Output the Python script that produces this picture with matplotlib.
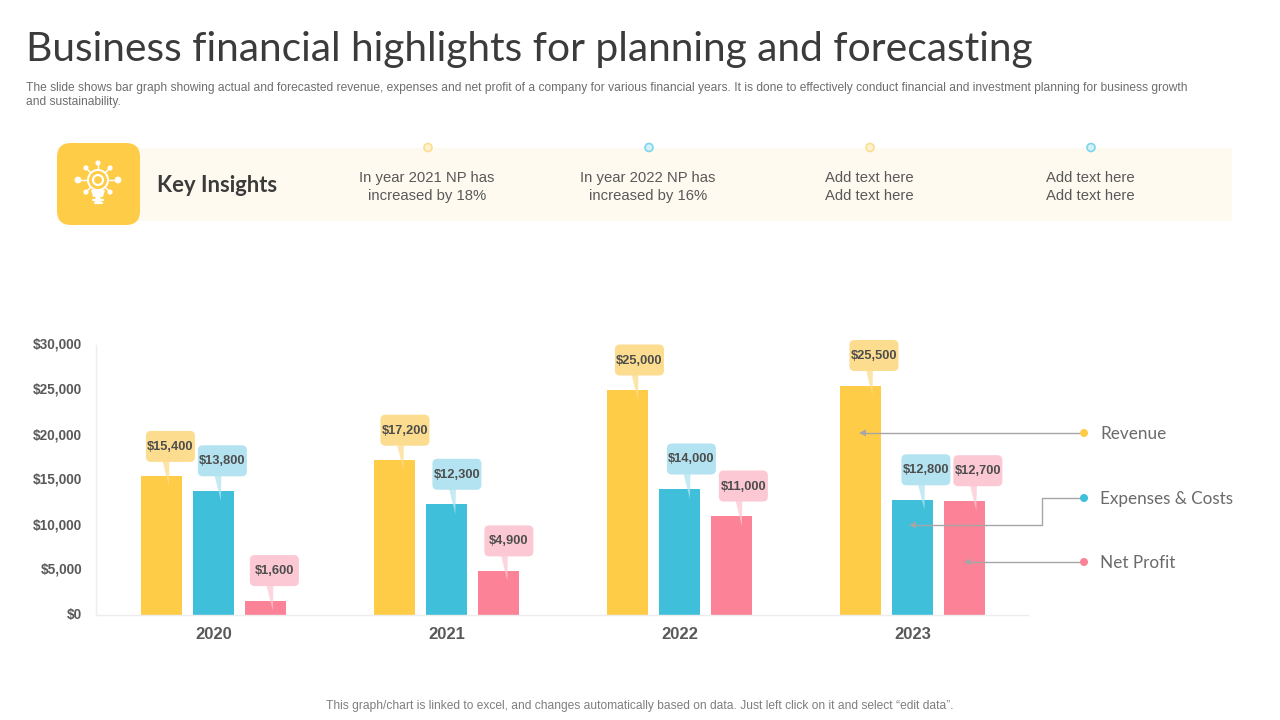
import matplotlib
matplotlib.use("Agg")
import numpy as np
import matplotlib.pyplot as plt
from matplotlib.patches import FancyBboxPatch, Rectangle, Circle, Polygon
from matplotlib.transforms import ScaledTranslation

YEARS    = ["2020", "2021", "2022", "2023"]
REVENUE  = [15400, 17200, 25000, 25500]
EXPENSES = [13800, 12300, 14000, 12800]
PROFIT   = [1600, 4900, 11000, 12700]
YTICKS   = [0, 5000, 10000, 15000, 20000, 25000, 30000]
SERIES_NAMES = ["Revenue", "Expenses & Costs", "Net Profit"]
INSIGHTS = ["In year 2021 NP has\nincreased by 18%", "In year 2022 NP has\nincreased by 16%",
            "Add text here\nAdd text here", "Add text here\nAdd text here"]

YELLOW = "#FFCC47"
BLUE   = "#40BFDB"
PINK   = "#FC8297"
COLORS = [YELLOW, BLUE, PINK]
LIGHT  = ["#FCDD8F", "#B3E3F0", "#FBC8D4"]
GREY   = "#595959"
ARROW  = "#A6A6A6"
HEAD_FONT = "Lato"
ARIAL  = "Liberation Sans"

fig = plt.figure(figsize = (12.8, 7.2), dpi = 100)

# overlay in image pixels, y going down
bg = fig.add_axes([0, 0, 1, 1], zorder = 0)
bg.set_xlim(0, 1280)
bg.set_ylim(720, 0)
bg.axis("off")

ax = fig.add_axes([96 / 1280, (720 - 615) / 720, 932 / 1280, 270 / 720], zorder = 1)
ax.patch.set_alpha(0)
top = fig.add_axes([0, 0, 1, 1], zorder = 2)
top.set_xlim(0, 1280)
top.set_ylim(720, 0)
top.axis("off")

# header text
bg.text(26, 49, "Business financial highlights for planning and forecasting",
        fontsize = 29.3, family = HEAD_FONT, color = "#3B3B3B", va = "center", ha = "left")
bg.text(26, 87.5, "The slide shows bar graph showing actual and forecasted revenue, expenses and net profit of a company for various financial years. It is done to effectively conduct financial and investment planning for business growth",
        fontsize = 8.64, family = ARIAL, color = "#6E6E6E", va = "center")
bg.text(26, 101.5, "and sustainability.", fontsize = 8.64, family = ARIAL, color = "#6E6E6E", va = "center")

# key insights band
bg.add_patch(Rectangle((100, 148), 1132, 73, color = "#FEFAEF", lw = 0))
bg.add_patch(FancyBboxPatch((67, 153), 63, 62, boxstyle = "round,pad=10,rounding_size=14",
                            fc = YELLOW, ec = "none"))
bg.text(157, 185, "Key Insights", fontsize = 15.8, family = HEAD_FONT, weight = "bold",
        color = "#3B3B3B", va = "center")

# bulb icon
cx, cy = 98, 180
for a in np.arange(0, 360, 45) :
    if a == 90:
        continue
    r = 20 if a % 90 == 0 else 17
    x = cx + r * np.cos(np.radians(a))
    y = cy - r * np.sin(np.radians(a))
    bg.plot([cx, x], [cy, y], color = "white", lw = 1)
    bg.add_patch(Circle((x, y), 3.4 if a % 90 == 0 else 2.6, color = "white", lw = 0))
bg.add_patch(Circle((cx, cy - 17), 2.6, color = "white", lw = 0))
bg.plot([cx, cx], [cy - 17, cy], color = "white", lw = 1)
bg.add_patch(Circle((cx, cy), 10, fc = YELLOW, ec = "white", lw = 1.4, zorder = 3))
bg.add_patch(Circle((cx, cy), 5, fc = YELLOW, ec = "white", lw = 1.6, zorder = 3))
bg.add_patch(Polygon([(cx - 7, cy + 10), (cx + 7, cy + 10), (cx + 5, cy + 17), (cx - 5, cy + 17)],
                     color = "white", lw = 0, zorder = 3))
for y, w in [(cy + 19.5, 5), (cy + 23, 3.5)]:
    bg.plot([cx - w, cx + w], [y, y], color = "white", lw = 1.6, solid_capstyle = "round")

for i, txt in enumerate(INSIGHTS):
    x = 427 + i * 221
    bg.text(x, 187, txt, fontsize = 10.7, family = ARIAL, color = "#595959",
            ha = "center", va = "center", linespacing = 1.45)
    c = "#FCDD8F" if i % 2 == 0 else "#7FD6EC"
    face = "#FEF3D0" if i % 2 == 0 else "#D5F1F8"
    bg.add_patch(Circle((x + 1, 147.5), 4, fc = face, ec = c, lw = 1.2, zorder = 3))

# bars
xpos = np.arange(len(YEARS))
width = 0.176
gap = 0.223
values = [REVENUE, EXPENSES, PROFIT]
for i, vals in enumerate(values):
    ax.bar(xpos + (i - 1) * gap, vals, width = width, color = COLORS[i], lw = 0, zorder = 2)

ax.set_xlim(-0.506, 3.494)
ax.set_ylim(0, 30000)
ax.set_xticks(xpos)
ax.set_xticklabels(YEARS, fontsize = 12, weight = "bold", family = ARIAL, color = GREY)
ax.set_yticks(YTICKS)
ax.set_yticklabels(["$%s" % format(v, ",") for v in YTICKS], fontsize = 9.8, weight = "bold",
                   family = ARIAL, color = GREY, va = "center_baseline")
ax.tick_params(length = 0)
ax.tick_params(axis = "x", pad = 8.3)
ax.tick_params(axis = "y", pad = 10)
shift = ScaledTranslation(0, 1.5 / 100, fig.dpi_scale_trans)
for lab in ax.get_yticklabels():
    lab.set_transform(lab.get_transform() + shift)
for s in ["top", "right"]:
    ax.spines[s].set_visible(False)
for s in ["left", "bottom"]:
    ax.spines[s].set_color("#EDEDED")
    ax.spines[s].set_linewidth(1)

# value callouts, anchored on the bar tops
def to_pixels(x, y):
    px = ax.transData.transform((x, y))
    return px[0], 720 - px[1]

for i, vals in enumerate(values):
    for j, v in enumerate(vals):
        bx, by = to_pixels(xpos[j] + (i - 1) * gap, v)
        mx = bx + 8.5 + 1.5 * j
        my = by - 30
        top.add_patch(Polygon([(mx - 8, my + 14), (mx - 1, my + 14), (mx - 1.5, my + 40)],
                              color = LIGHT[i], alpha = 0.75, lw = 0, zorder = 3))
        top.add_patch(FancyBboxPatch((mx - 21, my - 12), 42, 24,
                                     boxstyle = "round,pad=3.5,rounding_size=5",
                                     fc = LIGHT[i], ec = "none", zorder = 4))
        top.text(mx, my + 0.5, "$%s" % format(v, ","), fontsize = 9.3, weight = "bold", family = ARIAL,
                 color = "#4D4D4D", ha = "center", va = "center", zorder = 5)

# legend with leader lines
legend_y = [433, 498, 562]
paths = [[(1084, 433), (859, 433)],
         [(1084, 498), (1042, 498), (1042, 525), (909, 525)],
         [(1084, 562), (964, 562)]]
for i, name in enumerate(SERIES_NAMES):
    p = np.array(paths[i])
    top.plot(p[:-1, 0].tolist() + [p[-1, 0] + 6], p[:-1, 1].tolist() + [p[-1, 1]],
             color = ARROW, lw = 1, zorder = 6)
    ex, ey = paths[i][-1]
    top.add_patch(Polygon([(ex, ey), (ex + 7, ey - 3.5), (ex + 7, ey + 3.5)], color = ARROW,
                          lw = 0, zorder = 6))
    top.add_patch(Circle((1084, legend_y[i]), 4, color = COLORS[i], lw = 0, zorder = 7))
    top.text(1100, legend_y[i] + 1, name, fontsize = 12.3, family = HEAD_FONT,
             color = "#6A6A6A", va = "center", zorder = 7)

# footer
top.text(640, 705.5, "This graph/chart is linked to excel, and changes automatically based on data. Just left click on it and select \u201cedit data\u201d.",
         fontsize = 8.66, family = ARIAL, color = "#7F7F7F", ha = "center", va = "center")

fig.savefig("out.png", dpi = 100)
